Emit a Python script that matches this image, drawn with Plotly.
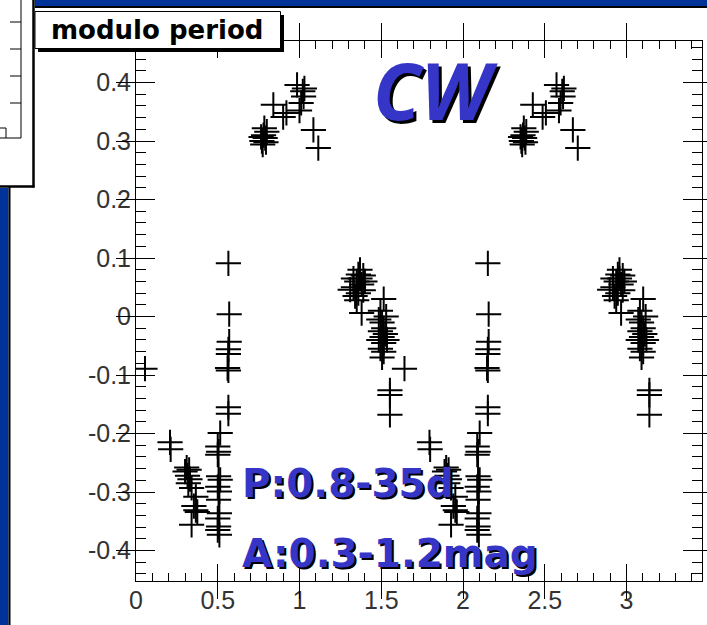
import plotly.graph_objects as go

# ---------------- data ----------------
# first folded cycle
phase_cycle1 = [
    0.055,
    0.208, 0.212,
    0.300, 0.310, 0.315, 0.325, 0.330, 0.320, 0.340, 0.366, 0.354, 0.366, 0.375, 0.340,
    0.515, 0.500, 0.505, 0.500, 0.505, 0.515, 0.500, 0.510, 0.505, 0.510, 0.500, 0.505, 0.500, 0.510,
    0.565, 0.570, 0.570, 0.565, 0.565, 0.560, 0.565, 0.565, 0.565,
    0.770, 0.780, 0.790, 0.800, 0.775, 0.785, 0.795, 0.765, 0.840, 0.900, 0.920, 0.985, 1.020, 1.025,
    1.010, 1.000, 1.030, 1.085, 1.115,
    1.310, 1.330, 1.350, 1.360, 1.370, 1.380, 1.390, 1.360, 1.400, 1.340, 1.350, 1.370, 1.380, 1.390, 1.330,
    1.515, 1.495, 1.485, 1.505, 1.515, 1.495, 1.525, 1.505, 1.485, 1.515, 1.535, 1.495, 1.515, 1.505, 1.530,
    1.553, 1.553, 1.553,
]
mag_cycle1 = [
    -0.089,
    -0.215, -0.227,
    -0.265, -0.258, -0.272, -0.262, -0.278, -0.285, -0.293, -0.308, -0.324, -0.331, -0.334, -0.356,
    -0.199, -0.222, -0.231, -0.236, -0.273, -0.279, -0.291, -0.299, -0.313, -0.336, -0.345, -0.359, -0.365, -0.373,
    0.091, 0.004, -0.043, -0.056, -0.064, -0.088, -0.092, -0.155, -0.166,
    0.300, 0.310, 0.305, 0.316, 0.294, 0.322, 0.298, 0.307, 0.362, 0.341, 0.348, 0.396, 0.385, 0.376,
    0.365, 0.352, 0.390, 0.319, 0.288,
    0.046, 0.050, 0.060, 0.072, 0.065, 0.055, 0.045, 0.040, 0.060, 0.035, 0.028, 0.080, 0.006, 0.070, 0.065,
    0.030, 0.010, -0.005, -0.010, -0.020, -0.025, -0.030, -0.035, -0.040, -0.045, -0.040, -0.055, -0.060, -0.070, 0.000,
    -0.126, -0.134, -0.168,
]
# second folded cycle (same star, one period later)
phase_cycle2 = [
    1.642,
    1.795, 1.799,
    1.887, 1.897, 1.902, 1.912, 1.917, 1.907, 1.927, 1.953, 1.941, 1.953, 1.962, 1.927,
    2.102, 2.087, 2.092, 2.087, 2.092, 2.102, 2.087, 2.097, 2.092, 2.097, 2.087, 2.092, 2.087, 2.097,
    2.152, 2.157, 2.157, 2.152, 2.152, 2.147, 2.152, 2.152, 2.152,
    2.357, 2.367, 2.377, 2.387, 2.362, 2.372, 2.382, 2.352, 2.427, 2.487, 2.507, 2.572, 2.607, 2.612,
    2.597, 2.587, 2.617, 2.672, 2.702,
    2.897, 2.917, 2.937, 2.947, 2.957, 2.967, 2.977, 2.947, 2.987, 2.927, 2.937, 2.957, 2.967, 2.977, 2.917,
    3.102, 3.082, 3.072, 3.092, 3.102, 3.082, 3.112, 3.092, 3.072, 3.102, 3.122, 3.082, 3.102, 3.092, 3.117,
    3.140, 3.140, 3.140,
]
mag_cycle2 = list(mag_cycle1)

y_tick_vals = [-0.4, -0.3, -0.2, -0.1, 0, 0.1, 0.2, 0.3, 0.4]
y_tick_text = ["-0.4", "-0.3", "-0.2", "-0.1", "0", "0.1", "0.2", "0.3", "0.4"]

title_text = "modulo period"
class_text = "CW"
period_text = "P:0.8-35d"
amp_text = "A:0.3-1.2mag"

# ---------------- layout geometry ----------------
W_FIG, H_FIG = 707, 625
L, R, T, B = 136, 702, 41, 581
PW, PH = R - L, B - T
X_RANGE = [0, PW / 163.5]
Y_RANGE = [-0.452, 0.471]


def px(x):
    return (x - L) / PW


def py(y):
    return (B - y) / PH


BLUE = "#003399"
TXT_BLUE = "#3535c8"

fig = go.Figure()
marker = dict(symbol="cross-thin", size=18, line=dict(color="black", width=2), color="black")
fig.add_trace(go.Scatter(x=phase_cycle1, y=mag_cycle1, mode="markers", marker=marker,
                         showlegend=False, hoverinfo="skip"))
fig.add_trace(go.Scatter(x=phase_cycle2, y=mag_cycle2, mode="markers", marker=marker,
                         showlegend=False, hoverinfo="skip"))
# empty helper traces so the minor-tick overlay axes get drawn
fig.add_trace(go.Scatter(x=[], y=[], xaxis="x2", yaxis="y", showlegend=False, hoverinfo="skip"))
fig.add_trace(go.Scatter(x=[], y=[], xaxis="x", yaxis="y2", showlegend=False, hoverinfo="skip"))

shapes = []


def rect(x0, y0, x1, y1, fill, line_color=None, lw=0):
    shapes.append(dict(type="rect", xref="paper", yref="paper", layer="above",
                       x0=px(x0), x1=px(x1), y0=py(y1), y1=py(y0),
                       fillcolor=fill,
                       line=dict(color=line_color or fill, width=lw)))


def seg(x0, y0, x1, y1, color="black", lw=1):
    shapes.append(dict(type="line", xref="paper", yref="paper", layer="above",
                       x0=px(x0), x1=px(x1), y0=py(y0), y1=py(y1),
                       line=dict(color=color, width=lw)))


# slide decoration: top blue bar
rect(35, -2, 710, 6, BLUE)
seg(35, 7, 710, 7, "black", 2)
# slide decoration: left blue strip
rect(-2, 188, 8.5, 630, BLUE)
seg(9.5, 187, 9.5, 630, "black", 2)
# neighbouring panel top-left
rect(-2, -2, 33, 186, "white")
seg(33.5, -2, 33.5, 187.5, "black", 2.5)
seg(-2, 186.5, 34.5, 186.5, "black", 2.5)
seg(21, -2, 21, 138, "black", 1)
seg(-2, 138, 21, 138, "black", 1)
for ty in [22, 49, 76, 103]:
    seg(10, ty, 21, ty, "black", 1)
seg(-2, 128, 6, 128, "black", 1)
seg(6, 128, 6, 138, "black", 1)

# title box with shadow
rect(38, 15, 284, 52, "black")
rect(35, 11.5, 280.5, 48.5, "white", "black", 1)

annotations = [
    dict(text=title_text, xref="paper", yref="paper", x=px(157), y=py(30),
         xanchor="center", yanchor="middle", showarrow=False,
         font=dict(family="DejaVu Sans", size=26, color="black", weight="bold")),
]


def shadow_text(txt, x, y, size, style, anchor, off):
    common = dict(xref="paper", yref="paper", xanchor=anchor, yanchor="middle", showarrow=False)
    annotations.append(dict(text=txt, x=px(x + off), y=py(y + off),
                            font=dict(family=style[0], size=size, color="black",
                                      weight="bold", style=style[1]), **common))
    annotations.append(dict(text=txt, x=px(x), y=py(y),
                            font=dict(family=style[0], size=size, color=TXT_BLUE,
                                      weight="bold", style=style[1]), **common))


shadow_text(class_text, 436, 90, 78, ("Noto Sans", "italic"), "center", 3)
shadow_text(period_text, 240, 483, 39, ("DejaVu Sans", "normal"), "left", 2)
shadow_text(amp_text, 240, 553, 39, ("DejaVu Sans", "normal"), "left", 2)

tickfont = dict(family="Liberation Sans", size=25, color="#333333")

common_axis = dict(showline=True, linecolor="black", linewidth=1, mirror="allticks",
                   ticks="inside", tickwidth=1, tickcolor="black",
                   showgrid=False, zeroline=False)

fig.update_layout(
    width=W_FIG, height=H_FIG,
    margin=dict(l=L, r=W_FIG - R, t=T, b=H_FIG - B),
    paper_bgcolor="white", plot_bgcolor="white",
    shapes=shapes, annotations=annotations,
    xaxis=dict(range=X_RANGE, ticklen=17, tickmode="linear", tick0=0, dtick=0.5,
               tickfont=tickfont, ticklabelstandoff=-3, **common_axis),
    xaxis2=dict(range=X_RANGE, overlaying="x", anchor="y", side="bottom", ticklen=8,
                tickmode="linear", tick0=0, dtick=0.1, showticklabels=False, **common_axis),
    yaxis=dict(range=Y_RANGE, ticklen=19, tickmode="array", tickvals=y_tick_vals,
               ticktext=y_tick_text, tickfont=tickfont, ticklabelstandoff=-1, **common_axis),
    yaxis2=dict(range=Y_RANGE, overlaying="y", anchor="x", side="left", ticklen=10,
                tickmode="linear", tick0=0, dtick=0.02, showticklabels=False, **common_axis),
)

fig.write_html("out.html")
